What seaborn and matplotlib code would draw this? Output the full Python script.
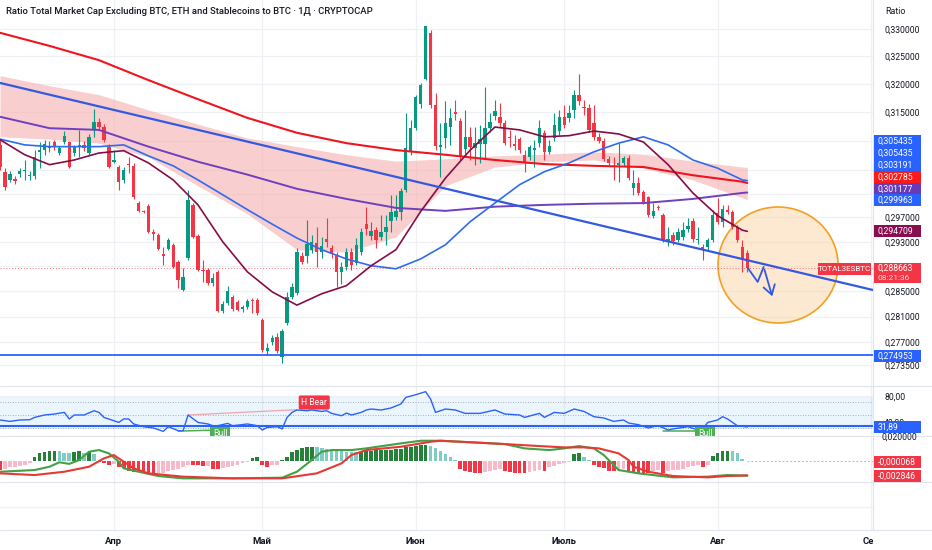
import numpy as np
import pandas as pd
import matplotlib
matplotlib.use("Agg")
import matplotlib.pyplot as plt
import seaborn as sns
from matplotlib.patches import Ellipse, Rectangle
from matplotlib.transforms import Bbox, TransformedBbox
from matplotlib.ticker import NullLocator

# ---------------- data ----------------
START = pd.Timestamp("2025-03-09")

open_ = [0.30930, 0.30466, 0.30330, 0.30347, 0.30432, 0.30483, 0.30398, 0.30398, 0.30808, 0.30843,
         0.30877, 0.30981, 0.30791, 0.30981, 0.30981, 0.30791, 0.30895, 0.30929, 0.30791, 0.31189,
         0.31329, 0.31242, 0.30895, 0.30637, 0.30551, 0.30330, 0.30603, 0.30568, 0.29943, 0.29809,
         0.29893, 0.29461, 0.29412, 0.29100, 0.29182, 0.29247, 0.28971, 0.28521, 0.29035, 0.29909,
         0.29395, 0.28842, 0.28842, 0.28633, 0.28810, 0.28188, 0.28315, 0.28410, 0.28331, 0.28220,
         0.28251, 0.28362, 0.28362, 0.28047, 0.27566, 0.27704, 0.27782, 0.27473, 0.28000, 0.28410,
         0.28473, 0.29068, 0.29068, 0.29166, 0.29280, 0.29133, 0.29345, 0.29198, 0.29084, 0.28810,
         0.28890, 0.29133, 0.28955, 0.29133, 0.29593, 0.29395, 0.29494, 0.29378, 0.29461, 0.29642,
         0.29709, 0.29792, 0.30161, 0.30808, 0.31224, 0.31645, 0.32091, 0.32927, 0.31628, 0.30895,
         0.31050, 0.31242, 0.31504, 0.31346, 0.30860, 0.31068, 0.30877, 0.30947, 0.30947, 0.31224,
         0.31434, 0.31417, 0.31311, 0.31068, 0.30947, 0.31033, 0.30757, 0.30722, 0.30843, 0.30964,
         0.31137, 0.30808, 0.31050, 0.31172, 0.31417, 0.31399, 0.31540, 0.31805, 0.31593, 0.31575,
         0.31311, 0.31068, 0.30999, 0.30688, 0.30568, 0.30586, 0.30620, 0.30705, 0.30195, 0.30279,
         0.30127, 0.30043, 0.29726, 0.29876, 0.29742, 0.29312, 0.29412, 0.29329, 0.29378, 0.29510,
         0.29642, 0.29329, 0.29215, 0.29215, 0.29329, 0.29775, 0.29626, 0.29826, 0.29792, 0.29543,
         0.29215, 0.29117]

high = [0.3102, 0.3053, 0.3048, 0.3040, 0.3053, 0.3067, 0.3048, 0.3084, 0.3098, 0.3102,
        0.3100, 0.3102, 0.3091, 0.3117, 0.3100, 0.3093, 0.3119, 0.3100, 0.3112, 0.3156,
        0.3140, 0.3130, 0.3095, 0.3084, 0.3059, 0.3055, 0.3072, 0.3062, 0.2998, 0.2983,
        0.2993, 0.2951, 0.2945, 0.2921, 0.2936, 0.2928, 0.2900, 0.2887, 0.3016, 0.2994,
        0.2943, 0.2900, 0.2887, 0.2879, 0.2884, 0.2835, 0.2858, 0.2844, 0.2836, 0.2828,
        0.2838, 0.2839, 0.2839, 0.2808, 0.2769, 0.2781, 0.2784, 0.2791, 0.2849, 0.2863,
        0.2920, 0.2913, 0.2966, 0.2941, 0.2954, 0.2938, 0.2969, 0.2925, 0.2913, 0.2897,
        0.2920, 0.2920, 0.2936, 0.2953, 0.2988, 0.2963, 0.2954, 0.2974, 0.2974, 0.3008,
        0.3008, 0.3019, 0.3148, 0.3136, 0.3181, 0.3202, 0.3306, 0.3298, 0.3184, 0.3131,
        0.3170, 0.3158, 0.3172, 0.3140, 0.3154, 0.3124, 0.3124, 0.3127, 0.3195, 0.3148,
        0.3172, 0.3167, 0.3136, 0.3119, 0.3110, 0.3107, 0.3084, 0.3093, 0.3102, 0.3136,
        0.3119, 0.3102, 0.3148, 0.3154, 0.3163, 0.3163, 0.3189, 0.3218, 0.3172, 0.3165,
        0.3163, 0.3114, 0.3105, 0.3074, 0.3072, 0.3096, 0.3074, 0.3076, 0.3050, 0.3038,
        0.3016, 0.3006, 0.2994, 0.2991, 0.2978, 0.2954, 0.2946, 0.2953, 0.2963, 0.2969,
        0.2969, 0.2954, 0.2926, 0.2936, 0.2983, 0.3003, 0.2991, 0.2991, 0.2983, 0.2958,
        0.2933, 0.2917]

low = [0.3050, 0.3016, 0.3030, 0.3026, 0.3038, 0.3033, 0.3033, 0.3035, 0.3053, 0.3076,
       0.3081, 0.3084, 0.3076, 0.3095, 0.3053, 0.3074, 0.3072, 0.3083, 0.3076, 0.3107,
       0.3119, 0.3098, 0.3053, 0.3062, 0.3016, 0.3028, 0.3045, 0.3001, 0.2979, 0.2977,
       0.2945, 0.2933, 0.2917, 0.2892, 0.2917, 0.2887, 0.2855, 0.2850, 0.2900, 0.2936,
       0.2883, 0.2865, 0.2860, 0.2859, 0.2817, 0.2816, 0.2828, 0.2819, 0.2818, 0.2817,
       0.2822, 0.2816, 0.2813, 0.2755, 0.2750, 0.2766, 0.2754, 0.2738, 0.2797, 0.2838,
       0.2844, 0.2894, 0.2895, 0.2912, 0.2889, 0.2904, 0.2921, 0.2904, 0.2857, 0.2862,
       0.2884, 0.2884, 0.2892, 0.2908, 0.2941, 0.2933, 0.2920, 0.2933, 0.2925, 0.2946,
       0.2966, 0.2966, 0.3013, 0.3076, 0.3119, 0.3158, 0.3207, 0.3158, 0.3084, 0.3038,
       0.3088, 0.3093, 0.3136, 0.3067, 0.3076, 0.3067, 0.3059, 0.3062, 0.3069, 0.3116,
       0.3136, 0.3124, 0.3093, 0.3090, 0.3084, 0.3079, 0.3047, 0.3067, 0.3055, 0.3090,
       0.3067, 0.3077, 0.3100, 0.3110, 0.3122, 0.3133, 0.3140, 0.3163, 0.3145, 0.3116,
       0.3102, 0.3096, 0.3065, 0.3059, 0.3033, 0.3030, 0.3057, 0.3033, 0.3008, 0.3008,
       0.2993, 0.2971, 0.2969, 0.2983, 0.2930, 0.2923, 0.2925, 0.2930, 0.2933, 0.2946,
       0.2930, 0.2926, 0.2900, 0.2917, 0.2930, 0.2959, 0.2954, 0.2976, 0.2951, 0.2930,
       0.2881, 0.2881]

close = [0.30551, 0.30212, 0.30432, 0.30313, 0.30483, 0.30500, 0.30415, 0.30722, 0.30843, 0.30947,
         0.30912, 0.30895, 0.30877, 0.31085, 0.30551, 0.30895, 0.30929, 0.30877, 0.31068, 0.31329,
         0.31242, 0.31016, 0.30551, 0.30671, 0.30296, 0.30500, 0.30586, 0.30043, 0.29809, 0.29792,
         0.29461, 0.29428, 0.29182, 0.29068, 0.29329, 0.28890, 0.28681, 0.28729, 0.29993, 0.29378,
         0.28842, 0.28826, 0.28633, 0.28713, 0.28188, 0.28299, 0.28505, 0.28220, 0.28204, 0.28251,
         0.28346, 0.28346, 0.28157, 0.27581, 0.27612, 0.27766, 0.27566, 0.27875, 0.28410, 0.28569,
         0.29133, 0.28971, 0.29264, 0.29296, 0.29133, 0.29231, 0.29296, 0.29100, 0.28810, 0.28890,
         0.29133, 0.28922, 0.29247, 0.29461, 0.29510, 0.29478, 0.29329, 0.29461, 0.29543, 0.29792,
         0.29809, 0.30144, 0.30877, 0.31224, 0.31769, 0.31983, 0.33055, 0.31628, 0.30912, 0.30929,
         0.31311, 0.31399, 0.31469, 0.30722, 0.31068, 0.30895, 0.30964, 0.31033, 0.31224, 0.31329,
         0.31522, 0.31311, 0.30964, 0.31050, 0.30912, 0.30843, 0.30620, 0.30895, 0.30877, 0.31224,
         0.30808, 0.30912, 0.31276, 0.31417, 0.31276, 0.31487, 0.31805, 0.31698, 0.31575, 0.31189,
         0.31068, 0.30999, 0.30688, 0.30620, 0.30551, 0.30620, 0.30705, 0.30364, 0.30279, 0.30111,
         0.29959, 0.29742, 0.29809, 0.29859, 0.29329, 0.29345, 0.29312, 0.29461, 0.29494, 0.29560,
         0.29345, 0.29345, 0.29166, 0.29329, 0.29742, 0.29626, 0.29843, 0.29792, 0.29543, 0.29329,
         0.29003, 0.288663]

# long moving averages / band (sampled every 10 days + last)
ma10_day = [0, 10, 20, 30, 40, 50, 60, 70, 80, 90, 100, 110, 120, 130, 140, 150, 151]
ema_red = [0.3293, 0.3269, 0.3243, 0.3207, 0.3173, 0.3140, 0.3114, 0.3096, 0.3084, 0.3076,
           0.3067, 0.3060, 0.3057, 0.3055, 0.3041, 0.3030, 0.302785]
ma_purple = [0.3142, 0.3122, 0.3119, 0.3090, 0.3064, 0.3042, 0.3018, 0.3001, 0.2986, 0.2981,
             0.2988, 0.2991, 0.2993, 0.2994, 0.3001, 0.3011, 0.301177]
band_upper = [0.3215, 0.3197, 0.3181, 0.3154, 0.3129, 0.3105, 0.3090, 0.3076, 0.3065, 0.3069,
              0.3074, 0.3077, 0.3081, 0.3077, 0.3065, 0.3055, 0.305435]
band_lower = [0.3107, 0.3103, 0.3096, 0.3072, 0.3023, 0.2976, 0.2917, 0.2913, 0.2938, 0.3023,
              0.3055, 0.3064, 0.3067, 0.3053, 0.3033, 0.3003, 0.299963]

# shorter moving averages (sampled every 5 days + last)
ma5_day = list(range(0, 151, 5)) + [151]
ma_blue = [0.3103, 0.3093, 0.3090, 0.3090, 0.3090, 0.3093, 0.3074, 0.3057, 0.3033, 0.3008,
           0.2983, 0.2959, 0.2936, 0.2917, 0.2902, 0.2891, 0.2886, 0.2902, 0.2925, 0.2963,
           0.2994, 0.3025, 0.3047, 0.3062, 0.3081, 0.3096, 0.3107, 0.3093, 0.3067, 0.3053,
           0.3033, 0.303191]
ma_maroon = [0.3102, 0.3076, 0.3059, 0.3067, 0.3079, 0.3083, 0.3062, 0.3033, 0.2991, 0.2930,
             0.2881, 0.2849, 0.2828, 0.2846, 0.2859, 0.2891, 0.2917, 0.2980, 0.3036, 0.3084,
             0.3124, 0.3119, 0.3107, 0.3109, 0.3117, 0.3112, 0.3098, 0.3059, 0.3011, 0.2973,
             0.2949, 0.294709]

# drawings
trend_day = [0, 176.4]
trend_val = [0.3202, 0.2852]
support_level = 0.274953
last_price = 0.288663
arrow_day = [151.1, 153.1, 154.3, 156.2]
arrow_val = [0.28874, 0.28649, 0.28890, 0.28378]

# RSI
rsi_day = [0, 2, 4, 6, 7, 9, 11, 13, 14, 15, 17, 19, 20, 21, 23, 24, 25, 26, 27, 29,
           31, 33, 34, 36, 37, 38, 40, 42, 43, 44, 46, 47, 50, 52, 53, 54, 56, 57, 58, 59,
           60, 62, 63, 65, 66, 67, 69, 70, 71, 73, 74, 75, 77, 79, 81, 82, 84, 86, 87, 88,
           90, 92, 94, 97, 100, 102, 105, 106, 108, 109, 110, 112, 114, 116, 118, 120, 122, 124, 126, 127,
           129, 131, 132, 133, 135, 136, 139, 141, 142, 143, 145, 146, 147, 149, 151]
rsi_val = [42.6, 40.5, 42.6, 43.0, 46.6, 50.3, 51.8, 54.3, 44.2, 50.3, 50.3, 56.9, 54.3, 46.6, 41.5, 38.9, 44.2, 44.2, 36.5, 32.3,
           30.3, 25.1, 32.3, 26.2, 26.2, 50.3, 38.9, 36.5, 33.8, 33.8, 37.4, 33.8, 36.5, 33.8, 27.2, 31.2, 32.3, 28.8, 46.6, 54.3,
           58.0, 56.9, 58.0, 55.8, 56.9, 52.8, 49.2, 53.3, 50.3, 54.3, 58.0, 59.5, 58.0, 61.1, 67.2, 77.4, 81.5, 86.2, 74.9, 54.3,
           59.5, 58.0, 52.8, 52.8, 58.0, 51.8, 50.3, 46.6, 50.8, 52.8, 46.6, 54.3, 52.8, 59.5, 55.8, 47.7, 45.7, 40.5, 42.6, 38.0,
           35.4, 30.3, 32.3, 33.8, 27.2, 28.8, 32.3, 27.2, 28.8, 38.9, 42.6, 47.7, 44.2, 33.8, 31.89]
rsi_hline = 32.8
bear_div_day = [38, 60]
bear_div_val = [50.3, 58.5]
bull_div1_day = [36, 43]
bull_div1_val = [25.5, 27.0]
bull_div2_day = [134, 142]
bull_div2_val = [26.0, 26.0]

# MACD (values in units of 1e-4)
hist_e4 = [-17.1, -16.4, -12.6, -11.4, -10.1, -8.2, -5.1, 6.3, 13.9, 17.1,
           17.7, 18.3, 18.0, 15.2, 13.9, 16.4, 17.7, 15.2, 16.4, 12.6,
           -3.2, -5.1, -7.6, -6.3, -11.4, -13.9, -19.0, -20.9, -22.1, -22.8,
           -23.4, -24.0, -23.4, -22.8, -20.2, -17.7, -15.8, -12.6, -8.2, -8.8,
           -9.0, -10.1, -9.5, -15.2, -16.4, -13.9, -11.4, -9.5, -7.6, -5.1,
           -1.9, 5.1, 6.3, -7.6, -11.4, -8.8, -7.6, 1.3, 7.6, 15.8,
           20.2, 23.4, 25.3, 26.5, 25.3, 24.0, 22.8, 20.9, 19.0, 17.7,
           17.1, 16.9, 16.4, 17.1, 17.7, 19.0, 19.6, 20.2, 20.5, 20.9,
           21.5, 22.8, 25.3, 26.5, 28.4, 29.1, 30.3, 28.4, 24.0, 17.7,
           12.6, 6.3, 1.3, -15.8, -19.0, -22.1, -23.4, -24.0, -20.9, -19.0,
           -17.7, -15.8, -19.0, -21.5, -22.8, -23.4, -24.0, -20.9, -19.0, -17.7,
           -19.0, -12.6, -9.5, -6.3, -4.4, -1.9, 12.6, 13.9, 7.6, 1.9,
           -7.6, -11.4, -13.9, -19.0, -20.2, -17.7, -16.4, -20.9, -22.1, -22.8,
           -23.4, -24.0, -19.0, -17.7, -23.4, -19.0, -17.7, -17.1, -15.2, -12.6,
           -9.5, -7.6, -11.4, -7.6, 8.8, 13.9, 17.7, 19.0, 17.7, 13.9,
           3.2, -0.68]
macd_day = [0, 7, 10, 12, 14, 16, 18, 20, 22, 24, 25, 28, 32, 37, 47, 57, 60, 63, 65, 67,
            71, 74, 81, 85, 89, 97, 102, 106, 111, 114, 117, 120, 122, 124, 125, 129, 136, 143, 147, 151]
macd_e4 = [-20.9, -17.7, -11.4, -3.0, -6.0, 1.3, 17.1, 20.2, 13.9, -1.9, -14.5, -20.9, -29.1, -33.5, -33.5, -32.2, -20.9, 1.3, 17.1, 20.2,
           20.2, 23.4, 32.9, 37.9, 37.9, 34.1, 31.6, 23.4, 20.2, 23.4, 27.8, 23.4, 10.7, -8.2, -17.7, -24.0, -31.6, -30.3, -27.2, -28.5]
signal_day = [0, 7, 13, 18, 21, 23, 25, 27, 30, 37, 47, 57, 64, 69, 71, 74, 81, 87, 89, 102,
              109, 114, 118, 121, 125, 127, 128, 131, 136, 143, 147, 151]
signal_e4 = [-24.0, -27.2, -20.9, -11.4, 4.4, 10.7, -1.9, -14.5, -24.0, -30.3, -33.5, -33.5, -24.0, -5.1, 10.7, 20.2, 26.5, 36.0, 37.9, 31.6,
             27.8, 25.3, 25.3, 23.4, 13.9, 1.3, -11.4, -20.9, -29.1, -31.6, -29.1, -27.8]

price_ticks = [0.330, 0.325, 0.320, 0.315, 0.310, 0.305, 0.301, 0.297, 0.293, 0.289,
               0.285, 0.281, 0.277, 0.2735]
hidden_ticks = [0.310, 0.305, 0.301, 0.289]   # covered by value boxes in the reference
months = ["2025-04-01", "2025-05-01", "2025-06-01", "2025-07-01", "2025-08-01", "2025-09-01"]
month_labels = ["Апр", "Май", "Июн", "Июль", "Авг", "Сен"]
title = "Ratio Total Market Cap Excluding BTC, ETH and Stablecoins to BTC · 1Д · CRYPTOCAP"

# ---------------- style ----------------
sns.set_theme(style="white")
plt.rcParams['font.family'] = ['Roboto', 'DejaVu Sans']

GREEN = "#089981"
RED = "#f23645"
BLUE = "#2962ff"
GRID = "#eef0f4"
SEP = "#e0e3eb"
TXT = "#131722"

W, H = 932, 550
PR = 873
fig = plt.figure(figsize=(W / 100, H / 100), dpi=100)
fig.patch.set_facecolor("white")


def pane(top, bottom):
    a = fig.add_axes([0, 1 - bottom / H, PR / W, (bottom - top) / H])
    for s in a.spines.values():
        s.set_visible(False)
    a.set_xlim(0, 176.4)
    a.set_xticks([])
    a.set_facecolor("none")
    return a


ax = pane(0, 386)
axr = pane(386, 436)
axm = pane(436, 482)
axe = pane(482, 530)

mdays = [(pd.Timestamp(m) - START).days for m in months]
for a in (ax, axr, axm, axe):
    for d in mdays:
        a.axvline(d, color=GRID, lw=0.9, zorder=0)

# ---------------- main pane ----------------
ax.set_yscale("log")
ax.set_ylim(0.270301, 0.335393)
ax.yaxis.set_minor_locator(NullLocator())
ax.set_yticks(price_ticks)
ax.set_yticklabels(["" if v in hidden_ticks else f"{v:.6f}".replace(".", ",") for v in price_ticks])
ax.yaxis.tick_right()
ax.tick_params(axis="y", length=0, pad=8, labelsize=6.2, labelcolor=TXT)
for v in price_ticks:
    ax.axhline(v, color=GRID, lw=0.9, zorder=0)

days = np.arange(len(close))
o = np.array(open_)
c = np.array(close)
col = np.where(c >= o, GREEN, RED)

ax.fill_between(ma10_day, band_lower, band_upper, color="#f6b0b0", alpha=0.62, lw=0, zorder=1)
ax.add_patch(Ellipse((778 / PR, 1 - 265 / 386), 120 / PR, 116 / 386, transform=ax.transAxes,
                     fc="#fbd09c", alpha=0.45, ec="none", zorder=1.5))
ax.add_patch(Ellipse((778 / PR, 1 - 265 / 386), 120 / PR, 116 / 386, transform=ax.transAxes,
                     fc="none", ec="#f3a020", lw=1.2, zorder=1.6))

ax.axhline(last_price, color=RED, lw=0.7, ls=(0, (1, 2)), alpha=0.7, zorder=2)
ax.vlines(days, low, high, colors=col, lw=0.8, zorder=3)
bot = np.minimum(o, c)
hgt = np.maximum(np.abs(c - o), 0.00012)
ax.bar(days, hgt, bottom=bot, width=0.68, color=col, lw=0, zorder=3.1)

sns.lineplot(x=ma10_day, y=ema_red, ax=ax, color="#f0141e", linewidth=1.5, zorder=5)
sns.lineplot(x=ma10_day, y=ma_purple, ax=ax, color="#6f3fc0", linewidth=1.4, zorder=5)
sns.lineplot(x=ma5_day, y=ma_blue, ax=ax, color="#2f6bf0", linewidth=1.2, zorder=5)
sns.lineplot(x=ma5_day, y=ma_maroon, ax=ax, color="#860d45", linewidth=1.2, zorder=5)
sns.lineplot(x=trend_day, y=trend_val, ax=ax, color="#3359e0", linewidth=1.6, zorder=6)
ax.axhline(support_level, color=BLUE, lw=1.3, zorder=6)

ax.plot(arrow_day[:3], arrow_val[:3], color="#3359e0", lw=1.3, zorder=7)
ax.annotate("", xy=(arrow_day[3], arrow_val[3]), xytext=(arrow_day[2], arrow_val[2]),
            arrowprops=dict(arrowstyle="->,head_length=0.55,head_width=0.35", color="#3359e0", lw=1.3),
            zorder=7)
ax.set_xlabel("")
ax.set_ylabel("")

# ---------------- RSI pane ----------------
axr.set_ylim(18.0, 94.9)
axr.set_yticks([80, 40])
axr.set_yticklabels(["80,00", "40,00"])
axr.yaxis.tick_right()
axr.tick_params(axis="y", length=0, pad=8, labelsize=6.2, labelcolor=TXT)
axr.axhline(80, color=GRID, lw=0.9, zorder=0)
axr.axhspan(29.5, 78.5, color="#2196f3", alpha=0.09, lw=0, zorder=0.5)
for lvl in (70, 50, 30):
    axr.axhline(lvl, color="#9598a1", lw=0.6, ls=(0, (1, 2)), zorder=1)
axr.axhline(rsi_hline, color=BLUE, lw=1.5, zorder=2)
sns.lineplot(x=bear_div_day, y=bear_div_val, ax=axr, color="#f4a3a8", linewidth=0.9, zorder=2)
sns.lineplot(x=bull_div1_day, y=bull_div1_val, ax=axr, color="#4caf50", linewidth=1.1, zorder=2)
sns.lineplot(x=bull_div2_day, y=bull_div2_val, ax=axr, color="#4caf50", linewidth=1.1, zorder=2)
sns.lineplot(x=rsi_day, y=rsi_val, ax=axr, color=BLUE, linewidth=1.0, zorder=3)
axr.text(63.5, 69.5, "H Bear", color="white", fontsize=6.2, ha="center", va="center", zorder=5,
         bbox=dict(boxstyle="round,pad=0.3,rounding_size=0.2", fc=RED, ec="none"))
for bx in (44.5, 142.5):
    axr.text(bx, 21.5, "Bull", color="white", fontsize=6.2, ha="center", va="center", zorder=5,
             clip_on=True, bbox=dict(boxstyle="square,pad=0.3", fc="#4caf50", ec="none"))
axr.set_xlabel("")
axr.set_ylabel("")

# ---------------- MACD pane ----------------
hist = np.array(hist_e4) * 1e-4
prev = np.concatenate([[0.0], hist[:-1]])
hcol = []
for h, p in zip(hist, prev):
    if h >= 0:
        hcol.append("#26803a" if h >= p else "#80cbc4")
    else:
        hcol.append("#f23645" if h < p else "#f8b9cb")
axm.set_ylim(-40.4e-4, 46.9e-4)
axm.set_yticks([])
axm.bar(days, hist, width=0.75, color=hcol, lw=0, zorder=2)
axm.plot([151, 176.4], [0, 0], color="#b2b5be", lw=0.7, ls=(0, (2, 2)), zorder=1)
sns.lineplot(x=macd_day, y=np.array(macd_e4) * 1e-4, ax=axm, color="#43a047", linewidth=1.5, zorder=3)
sns.lineplot(x=signal_day, y=np.array(signal_e4) * 1e-4, ax=axm, color="#e53935", linewidth=1.5, zorder=4)
axm.set_xlabel("")
axm.set_ylabel("")

# ---------------- empty pane ----------------
axe.set_ylim(0, 1)
axe.set_yticks([])
axe.axhline(0.48, color=GRID, lw=0.9, zorder=0)

# ---------------- separators ----------------
for yy in (386, 436, 482, 530):
    fig.add_artist(plt.Line2D([0, 1], [1 - yy / H, 1 - yy / H], transform=fig.transFigure,
                              color=SEP, lw=0.8, zorder=1))
fig.add_artist(plt.Line2D([PR / W, PR / W], [1 - 530 / H, 1], transform=fig.transFigure,
                          color=SEP, lw=0.8, zorder=1))


# ---------------- labels ----------------
def fbox(yc, txt, color, x0=874, w=47, h=12, fs=6.2):
    fig.add_artist(Rectangle((x0 / W, 1 - (yc + h / 2) / H), w / W, h / H, transform=fig.transFigure,
                             fc=color, ec="none", zorder=10))
    fig.text((x0 + 4) / W, 1 - yc / H, txt, color="white", fontsize=fs, va="center", ha="left", zorder=11)


fig.text(881 / W, 1 - 437 / H, "0,020000", color=TXT, fontsize=6.2, va="center", ha="left", zorder=5)
for yc, txt, color in [(141, "0,305435", BLUE), (153, "0,305435", BLUE), (165, "0,303191", BLUE),
                       (177, "0,302785", "#ff1a1a"), (189, "0,301177", "#673ab7"), (200, "0,299963", BLUE),
                       (231, "0,294709", "#880e4f"), (356, "0,274953", BLUE), (427, "31,89", BLUE),
                       (462, "-0,000068", RED), (476, "-0,002846", RED)]:
    fbox(yc, txt, color)

# last price box (two lines)
fig.add_artist(Rectangle((874 / W, 1 - 283 / H), 47 / W, 20 / H, transform=fig.transFigure,
                         fc=RED, ec="none", zorder=10))
fig.text(878 / W, 1 - 268.5 / H, "0,288663", color="white", fontsize=6.2, va="center", zorder=11)
fig.text(878 / W, 1 - 277.5 / H, "08:21:36", color="#ffd6da", fontsize=6.0, va="center", zorder=11)
fig.add_artist(Rectangle((818 / W, 1 - 275 / H), 53 / W, 12 / H, transform=fig.transFigure,
                         fc=RED, ec="none", zorder=10))
fig.text(844.5 / W, 1 - 269 / H, "TOTAL3ESBTC", color="white", fontsize=5.8, va="center",
         ha="center", zorder=11)

fig.text(885 / W, 1 - 12 / H, "Ratio", color=TXT, fontsize=6.4, va="center", ha="left")
fig.text(6 / W, 1 - 11 / H, title, color=TXT, fontsize=6.8, fontweight="medium", va="center", ha="left")

clip = TransformedBbox(Bbox([[0, 0], [PR / W, 1]]), fig.transFigure)
for d, lab in zip(mdays, month_labels):
    t = fig.text(d * (PR / 176.4) / W, 1 - 541 / H, lab, color=TXT, fontsize=6.8,
                 fontweight="bold", ha="center", va="center")
    t.set_clip_box(clip)
    t.set_clip_on(True)

fig.savefig("out.png", dpi=100, facecolor="white")
